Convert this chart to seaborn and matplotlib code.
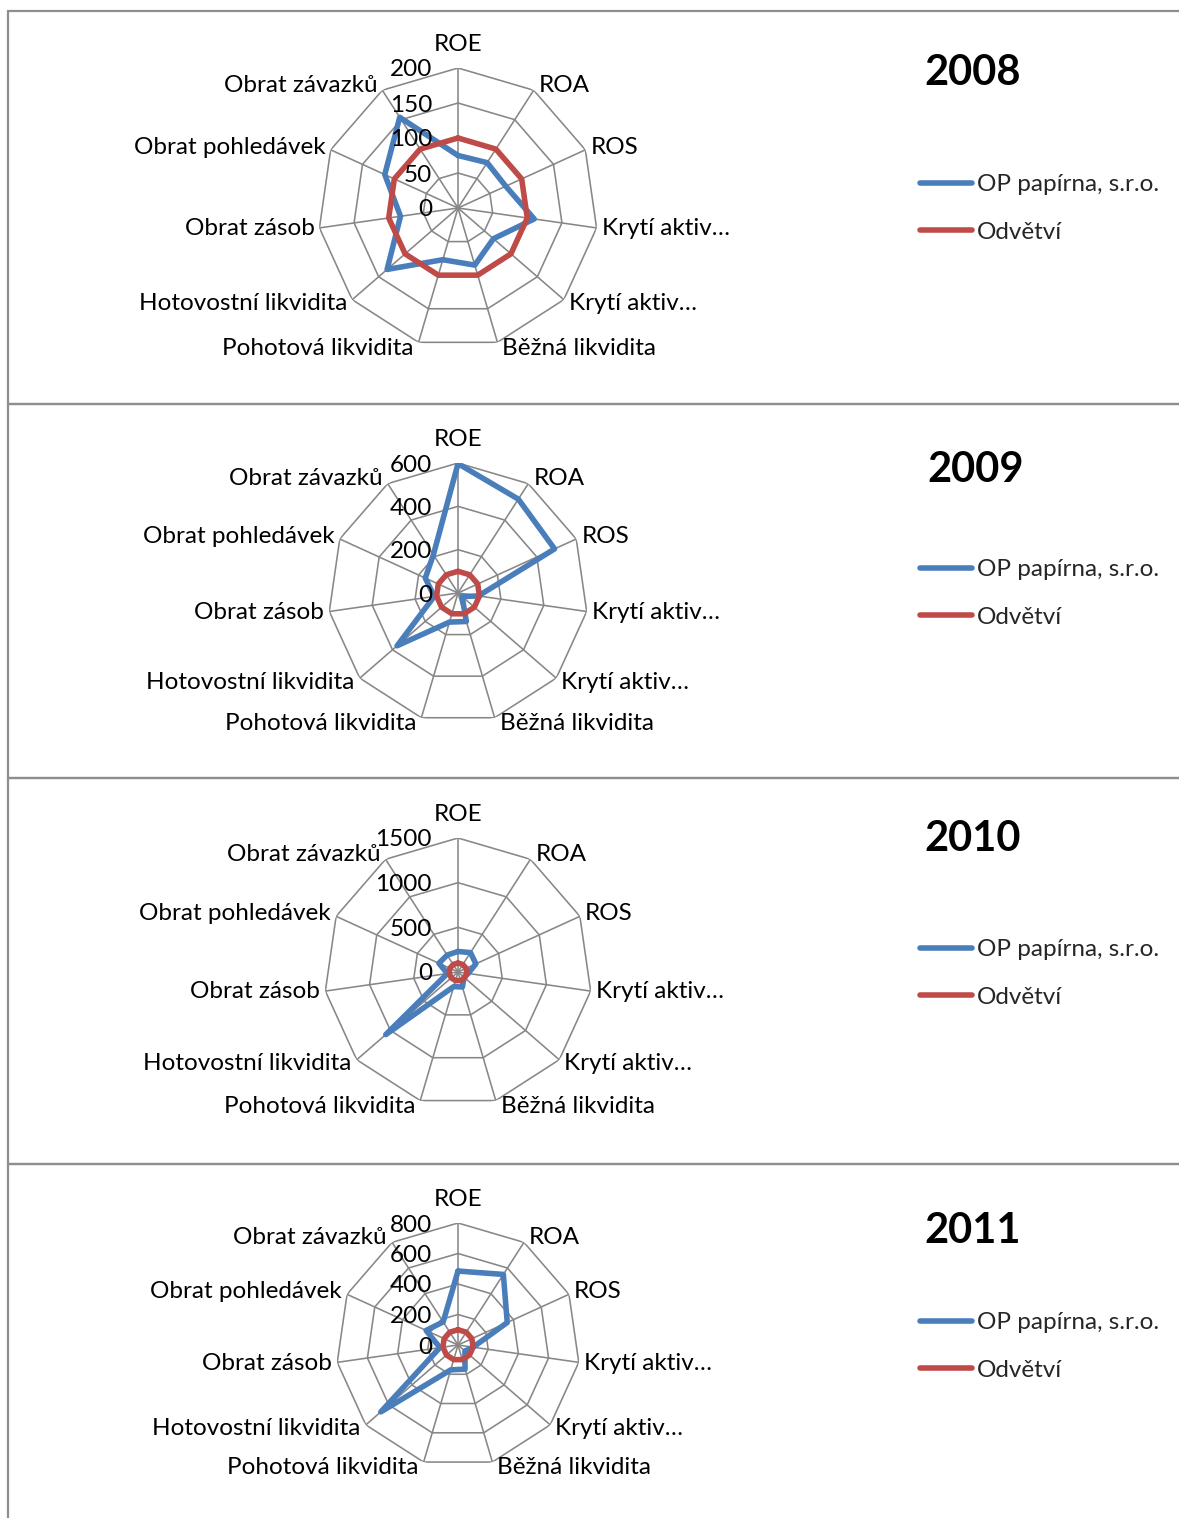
import numpy as np
import pandas as pd
import matplotlib
matplotlib.use("Agg")
import matplotlib.pyplot as plt
from matplotlib.patches import Rectangle
import seaborn as sns

# Indicator names (clockwise from the top)
categories = ["ROE", "ROA", "ROS", "Krytí aktiv…", "Krytí aktiv…", "Běžná likvidita",
              "Pohotová likvidita", "Hotovostní likvidita", "Obrat zásob",
              "Obrat pohledávek", "Obrat závazků"]

series_names = ["OP papírna, s.r.o.", "Odvětví"]

# Company values indexed to the industry (industry = 100)
firm_2008 = [75, 77, 75, 110, 67, 85, 77, 134, 83, 115, 154]
firm_2009 = [597, 515, 490, 95, 25, 137, 140, 372, 111, 166, 210]
firm_2010 = [230, 258, 220, 115, 90, 175, 170, 1070, 120, 235, 225]
firm_2011 = [485, 550, 355, 100, 60, 165, 170, 670, 120, 230, 180]
industry = [100] * 11

years = ["2008", "2009", "2010", "2011"]
firm_values = [firm_2008, firm_2009, firm_2010, firm_2011]
radial_max = [200, 600, 1500, 800]
radial_step = [50, 200, 500, 200]

W, H, DPI = 1179, 1518, 100
sns.set_style("white")
plt.rcParams["font.family"] = ["Lato", "DejaVu Sans"]

fig = plt.figure(figsize=(W / DPI, H / DPI), dpi=DPI)

# panel frames (top, bottom) in pixels
panels = [(11, 404), (404, 778), (778, 1164), (1164, 1530)]
centers = [(458, 208), (458, 593), (458, 972), (458, 1345)]
radii = [140, 130, 134, 122]
title_pos = [(973, 73), (976, 470), (973, 839), (973, 1231)]
legend_pos = [(920, 174), (920, 559), (920, 939), (920, 1312)]

GRID = "#878787"
BLUE = "#4A7EBB"
RED = "#BE4B48"
FS = 17.5
PX = 72 / DPI  # points per pixel

n = len(categories)
theta = np.linspace(0, 2 * np.pi, n, endpoint=False)
theta_closed = np.append(theta, 2 * np.pi)

for i in range(4):
    top, bot = panels[i]
    fig.add_artist(Rectangle((8 / W, 1 - bot / H), (W + 20) / W, (bot - top) / H,
                             transform=fig.transFigure, fill=False,
                             edgecolor="#8e8e8e", lw=1.6, zorder=0))

    cx, cy = centers[i]
    r = radii[i]
    ax = fig.add_axes([(cx - r) / W, 1 - (cy + r) / H, 2 * r / W, 2 * r / H],
                      projection="polar")
    ax.set_theta_zero_location("N")
    ax.set_theta_direction(-1)
    ax.grid(False)
    ax.spines["polar"].set_visible(False)
    ax.set_xticks([])
    ax.set_yticks([])
    ax.patch.set_alpha(0)
    rmax = radial_max[i]
    ax.set_ylim(0, rmax)

    ticks = np.arange(0, rmax + radial_step[i] / 2, radial_step[i])
    # polygon gridlines
    for v in ticks[1:]:
        ax.plot(theta_closed, [v] * (n + 1), color=GRID, lw=1.15, zorder=1)
    for t in theta:
        ax.plot([t, t], [0, rmax], color=GRID, lw=1.15, zorder=1)

    # tick labels along the ROE spoke
    for v in ticks:
        ax.annotate(f"{int(v)}", xy=(0, v), xytext=(-26 * PX, -2 * PX),
                    textcoords="offset points", ha="right", va="center",
                    fontsize=FS, color="black", zorder=5, annotation_clip=False)

    # category labels
    for t, name in zip(theta, categories):
        s, c = np.sin(t), np.cos(t)
        if abs(s) < 0.05:
            ha, va, off = "center", "bottom", (0, 13 * PX)
        else:
            ha = "left" if s > 0 else "right"
            va = "center"
            off = (5 * np.sign(s) * PX, 6 * c * PX)
        ax.annotate(name, xy=(t, rmax), xytext=off, textcoords="offset points",
                    ha=ha, va=va, fontsize=FS, color="black", annotation_clip=False)

    df = pd.DataFrame({
        "theta": np.concatenate([theta_closed, theta_closed]),
        "value": np.concatenate([np.append(firm_values[i], firm_values[i][0]),
                                 np.append(industry, industry[0])]),
        "series": [series_names[0]] * (n + 1) + [series_names[1]] * (n + 1),
    })
    sns.lineplot(data=df, x="theta", y="value", hue="series", palette=[BLUE, RED],
                 sort=False, estimator=None, lw=4.0, ax=ax, zorder=3)
    ax.set_xlabel("")
    ax.set_ylabel("")
    ax.set_xticks([])
    ax.set_yticks([])
    ax.set_ylim(0, rmax)

    lx, ly = legend_pos[i]
    sns.move_legend(ax, loc="upper left",
                    bbox_to_anchor=(lx / W, 1 - ly / H),
                    bbox_transform=fig.transFigure, frameon=False, title=None,
                    fontsize=FS, handlelength=2.15, handletextpad=0.2,
                    labelspacing=1.1, borderpad=0, borderaxespad=0)

    tx, ty = title_pos[i]
    fig.text(tx / W, 1 - ty / H, years[i], ha="center", va="center",
             fontsize=30, fontweight="bold", color="black")

fig.savefig("out.png", dpi=DPI)
